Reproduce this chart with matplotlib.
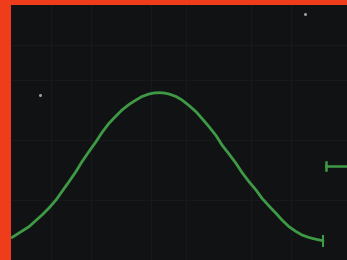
import matplotlib
matplotlib.use("Agg")
import matplotlib.pyplot as plt

# trace samples (horizontal position, amplitude)
t = [1, 8, 18, 31, 38, 45, 51, 58, 65, 71, 78, 85, 91, 98, 105, 111, 118, 125,
     131, 138, 143, 148, 153, 158, 165, 171, 178, 185, 191, 198, 205, 211, 218,
     225, 231, 238, 245, 251, 258, 265, 271, 278, 285, 291, 298, 305, 312]
v = [22.5, 27, 33.3, 45, 52, 60, 68.5, 78.3, 88.5, 98.3, 108.5, 118.3, 127.5,
     136.7, 144, 150, 155.5, 160, 163.5, 166, 167, 167.3, 167, 166, 163.5, 160,
     154.5, 148.3, 141.5, 133.3, 124.5, 115, 106, 96.7, 87.5, 78.3, 70, 61.7,
     54, 46.7, 40, 33.3, 28.5, 25, 22.5, 20.7, 19.3]
# reference marker level on the right edge
ref_t = [315, 335]
ref_v = [94, 94]

fig = plt.figure(figsize=(3.47, 2.60), dpi=100)
fig.patch.set_facecolor("#ef3d1c")
ax = fig.add_axes([11/347, 0, 336/347, 255/260])
ax.set_facecolor("#111214")
ax.set_xlim(0, 336)
ax.set_ylim(0, 255)
for s in ax.spines.values():
    s.set_visible(False)
ax.set_xticks([])
ax.set_yticks([])
for gx in [40, 80, 140, 175, 240, 280]:
    ax.axvline(gx, color="#17191c", lw=0.8, zorder=0)
for gy in [60, 120, 180, 215]:
    ax.axhline(gy, color="#17191c", lw=0.8, zorder=0)

ax.plot(t, v, color="#3f9a45", lw=2.0, solid_capstyle="round", solid_joinstyle="round")
ax.plot([t[-1], t[-1]], [v[-1]-5, v[-1]+5], color="#3f9a45", lw=1.5)
ax.plot(ref_t, ref_v, color="#3f9a45", lw=1.8)
ax.plot([ref_t[0], ref_t[0]], [ref_v[0]-4, ref_v[0]+4], color="#3f9a45", lw=1.8)
for px, py in [(294, 246), (29, 165)]:
    ax.plot(px, py, "o", color="#9a9a9a", ms=1.2)

fig.savefig("out.png", dpi=100, facecolor=fig.get_facecolor())
